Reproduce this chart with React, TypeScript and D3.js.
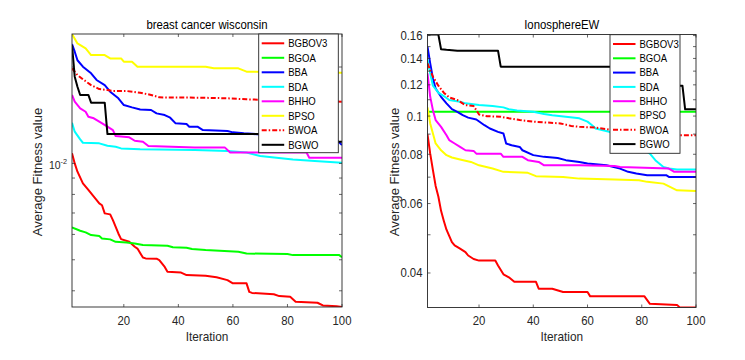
import React from 'react';
import * as d3 from 'd3';

type Pt = [number, number]; // [iteration, average fitness]

const seriesNames = ['BGBOV3', 'BGOA', 'BBA', 'BDA', 'BHHO', 'BPSO', 'BWOA', 'BGWO'];
const seriesColors = ['#ff0000', '#00ff00', '#0000ff', '#00ffff', '#ff00ff', '#ffff00', '#ff0000', '#000000'];
const seriesDash = [null, null, null, null, null, null, '5,2,1.5,2', null];

const iterTicks = [20, 40, 60, 80, 100];

// breast cancer wisconsin
const bcwBGBOV3: Pt[] = [[1, 0.01075], [2, 0.0100], [3, 0.00942], [5, 0.00866], [7, 0.00826], [9, 0.00787], [11, 0.0075], [12, 0.0074], [13, 0.00698], [15, 0.00693], [16, 0.00665], [18, 0.00604], [19, 0.0058], [22, 0.00569], [24, 0.00549], [25, 0.00542], [27, 0.00508], [28, 0.00505], [32, 0.00504], [33, 0.00499], [35, 0.00475], [36, 0.00459], [41, 0.00456], [43, 0.00448], [50, 0.00446], [54, 0.00441], [58, 0.00432], [60, 0.00422], [65, 0.00422], [66, 0.00397], [67, 0.00394], [75, 0.0039], [77, 0.00385], [81, 0.00383], [83, 0.0037], [91, 0.00367], [93, 0.0036], [98, 0.00358], [100, 0.00356]];
const bcwBGOA: Pt[] = [[1, 0.00631], [4, 0.00616], [6, 0.00609], [8, 0.00597], [11, 0.00593], [12, 0.00583], [15, 0.00579], [17, 0.00569], [21, 0.00566], [24, 0.00562], [27, 0.00556], [36, 0.00553], [38, 0.00547], [43, 0.00545], [45, 0.0054], [50, 0.00536], [62, 0.0053], [65, 0.00523], [80, 0.00521], [82, 0.00517], [99, 0.00517], [100, 0.00509]];
const bcwBBA: Pt[] = [[1, 0.0236], [2, 0.02233], [3, 0.0210], [5, 0.02005], [8, 0.01911], [10, 0.01822], [13, 0.01756], [15, 0.01675], [18, 0.01597], [20, 0.01521], [23, 0.01496], [26, 0.01474], [30, 0.01468], [32, 0.01433], [35, 0.01416], [37, 0.01389], [39, 0.01334], [43, 0.01327], [44, 0.01302], [47, 0.01302], [49, 0.01271], [58, 0.01262], [60, 0.0125], [64, 0.01241], [70, 0.01232], [82, 0.01226], [92, 0.01212], [98, 0.01183], [100, 0.01141]];
const bcwBDA: Pt[] = [[1, 0.0134], [2, 0.01256], [4, 0.01188], [5, 0.0116], [11, 0.01155], [14, 0.01135], [17, 0.01127], [19, 0.01114], [26, 0.01108], [33, 0.01106], [46, 0.01101], [58, 0.01093], [65, 0.01082], [70, 0.01054], [82, 0.01029], [90, 0.01017], [100, 0.01005]];
const bcwBHHO: Pt[] = [[1, 0.01636], [2, 0.01559], [4, 0.01486], [6, 0.0145], [7, 0.01399], [9, 0.01383], [11, 0.0135], [14, 0.01302], [16, 0.01271], [17, 0.01218], [22, 0.01206], [24, 0.01177], [27, 0.01169], [29, 0.01133], [46, 0.01122], [57, 0.01122], [59, 0.01082], [87, 0.01082], [88, 0.01041], [100, 0.01041]];
const bcwBPSO: Pt[] = [[1, 0.02536], [3, 0.0237], [6, 0.02288], [8, 0.0218], [13, 0.0218], [15, 0.02128], [19, 0.02128], [20, 0.02078], [23, 0.02078], [25, 0.02005], [50, 0.02005], [53, 0.01981], [62, 0.01981], [65, 0.01934], [100, 0.0192]];
const bcwBWOA: Pt[] = [[1, 0.01981], [3, 0.01888], [5, 0.01831], [8, 0.01756], [11, 0.01707], [14, 0.01695], [16, 0.01683], [21, 0.01683], [26, 0.01663], [30, 0.01636], [33, 0.01608], [48, 0.01604], [58, 0.01597], [65, 0.01585], [82, 0.0157], [100, 0.01559]];
const bcwBGWO: Pt[] = [[1, 0.02342], [2, 0.01866], [3, 0.01736], [4, 0.01636], [7, 0.01636], [8, 0.01548], [13, 0.01548], [14, 0.01235], [85, 0.01235], [86, 0.01169], [100, 0.01169]];

// IonosphereEW
const ionBGBOV3: Pt[] = [[1, 0.0899], [2, 0.0803], [3, 0.0729], [4, 0.0665], [5, 0.0625], [6, 0.0575], [7, 0.0543], [8, 0.0515], [9, 0.0497], [10, 0.0479], [11, 0.047], [13, 0.0461], [15, 0.0452], [16, 0.0443], [18, 0.0434], [20, 0.043], [26, 0.043], [27, 0.0418], [29, 0.0397], [31, 0.039], [33, 0.038], [41, 0.038], [42, 0.0365], [47, 0.0365], [51, 0.0358], [60, 0.0358], [61, 0.0349], [81, 0.0349], [83, 0.0334], [93, 0.0332], [94, 0.0327], [100, 0.0327]];
const ionBGOA: Pt[] = [[1, 0.1025], [100, 0.1025]];
const ionBBA: Pt[] = [[1, 0.150], [2, 0.136], [3, 0.1245], [4, 0.1175], [6, 0.1119], [8, 0.1077], [10, 0.1041], [12, 0.1025], [14, 0.1005], [16, 0.0991], [19, 0.098], [22, 0.0948], [24, 0.093], [27, 0.0912], [29, 0.0903], [30, 0.0852], [32, 0.0843], [35, 0.0835], [36, 0.0819], [40, 0.0796], [44, 0.0788], [49, 0.0783], [52, 0.0773], [57, 0.0765], [60, 0.0758], [67, 0.075], [72, 0.0736], [75, 0.0722], [78, 0.0715], [82, 0.0708], [89, 0.0708], [90, 0.0701], [100, 0.0701]];
const ionBDA: Pt[] = [[1, 0.1392], [2, 0.1283], [3, 0.1194], [5, 0.1146], [7, 0.1124], [9, 0.1098], [13, 0.1087], [15, 0.1077], [20, 0.1066], [25, 0.106], [29, 0.1052], [31, 0.1041], [34, 0.1033], [40, 0.1025], [44, 0.1012], [47, 0.1005], [52, 0.0996], [57, 0.0987], [60, 0.0968], [62, 0.0944], [63, 0.093], [68, 0.0912], [76, 0.087], [83, 0.0803], [85, 0.0773], [88, 0.0743], [90, 0.0736], [93, 0.0732], [100, 0.0732]];
const ionBHHO: Pt[] = [[1, 0.1283], [2, 0.1119], [3, 0.1035], [4, 0.0977], [6, 0.0939], [8, 0.0894], [9, 0.0869], [11, 0.0852], [13, 0.0835], [15, 0.0819], [18, 0.0816], [19, 0.0803], [28, 0.0803], [29, 0.0788], [36, 0.0788], [38, 0.0773], [42, 0.0765], [44, 0.075], [57, 0.075], [70, 0.0747], [72, 0.0743], [90, 0.0736], [92, 0.0722], [100, 0.0722]];
const ionBPSO: Pt[] = [[1, 0.1052], [2, 0.0958], [3, 0.0903], [4, 0.0852], [6, 0.0819], [8, 0.0796], [10, 0.0785], [13, 0.0776], [17, 0.0765], [20, 0.075], [25, 0.0736], [29, 0.0722], [38, 0.0718], [41, 0.0704], [51, 0.0701], [57, 0.0694], [70, 0.069], [79, 0.0687], [82, 0.0681], [88, 0.0674], [93, 0.0648], [100, 0.0646]];
const ionBWOA: Pt[] = [[1, 0.136], [2, 0.1308], [3, 0.1258], [5, 0.1194], [7, 0.1146], [9, 0.1115], [12, 0.1098], [15, 0.1066], [18, 0.106], [19, 0.1035], [20, 0.1009], [23, 0.0999], [28, 0.0996], [31, 0.0987], [35, 0.0977], [40, 0.0968], [50, 0.0958], [54, 0.0944], [57, 0.0939], [63, 0.0935], [68, 0.0924], [80, 0.091], [94, 0.0894], [100, 0.0894]];
const ionBGWO: Pt[] = [[1, 0.161], [5, 0.161], [6, 0.1477], [8, 0.1472], [12, 0.1465], [27, 0.1465], [28, 0.1334], [80, 0.1334], [81, 0.1194], [95, 0.1194], [96, 0.104], [100, 0.104]];

const bcwMajor = [0.01];
const bcwMinor = [0.004, 0.005, 0.006, 0.007, 0.008, 0.009, 0.02];
const ionMajor = [0.04, 0.06, 0.08, 0.1, 0.12, 0.14, 0.16];
const ionMinor = [0.05, 0.07, 0.09, 0.11, 0.13, 0.15];

const ink = '#262626';
const SX = 0.91; // source figure is slightly stretched vertically

type Frame = { l: number; r: number; t: number; b: number };
type Box = { x: number; y: number; w: number; h: number; first: number; step: number };

function HText({ x, y, size, anchor = 'middle', fill = ink, children }: any) {
  return (
    <text transform={`translate(${x},${y}) scale(${SX},1)`} fontSize={size} textAnchor={anchor} fill={fill}>
      {children}
    </text>
  );
}

function Panel({ id, title, data, frame, legend, majors, minors, logLabel, ylabelX }: {
  id: string; title: string; data: Pt[][]; frame: Frame; legend: Box;
  majors: number[]; minors: number[]; logLabel: boolean; ylabelX: number;
}) {
  const xs = d3.scaleLinear().domain([1, 100]).range([frame.l, frame.r]);
  const ext = d3.extent(data.flat(), d => d[1]) as [number, number];
  const ys = d3.scaleLog().domain(ext).range([frame.b, frame.t]);
  const line = d3.line<Pt>().x(d => xs(d[0])).y(d => ys(d[1]));
  const midX = (frame.l + frame.r) / 2;

  return (
    <g>
      <defs>
        <clipPath id={id}>
          <rect x={frame.l} y={frame.t} width={frame.r - frame.l} height={frame.b - frame.t} />
        </clipPath>
      </defs>
      <rect x={frame.l} y={frame.t} width={frame.r - frame.l} height={frame.b - frame.t} fill="#fff" />
      <g clipPath={`url(#${id})`}>
        {data.map((s, i) => (
          <path key={i} d={line(s) ?? ''} fill="none" stroke={seriesColors[i]} strokeWidth={2}
            strokeDasharray={seriesDash[i] ?? undefined} strokeLinejoin="round" />
        ))}
      </g>

      {/* ticks, mirrored on all four sides */}
      {iterTicks.map(t => (
        <g key={t} stroke={ink} strokeWidth={0.7}>
          <line x1={xs(t)} x2={xs(t)} y1={frame.b} y2={frame.b - 3} />
          <line x1={xs(t)} x2={xs(t)} y1={frame.t} y2={frame.t + 3} />
        </g>
      ))}
      {majors.concat(minors).map(v => (
        <g key={v} stroke={ink} strokeWidth={0.7}>
          <line x1={frame.l} x2={frame.l + 3} y1={ys(v)} y2={ys(v)} />
          <line x1={frame.r} x2={frame.r - 3} y1={ys(v)} y2={ys(v)} />
        </g>
      ))}
      <rect x={frame.l} y={frame.t} width={frame.r - frame.l} height={frame.b - frame.t}
        fill="none" stroke={ink} strokeWidth={0.9} />

      {iterTicks.map(t => (
        <HText key={t} x={xs(t)} y={frame.b + 17.5} size={12.5}>{t}</HText>
      ))}
      {majors.map(v => logLabel ? (
        <text key={v} transform={`translate(${frame.l - 5},${ys(v) + 6}) scale(${SX},1)`} textAnchor="end" fill={ink} fontSize={11.5}>
          10<tspan dy={-5} fontSize={8}>-2</tspan>
        </text>
      ) : (
        <HText key={v} x={frame.l - 5} y={ys(v) + 4.5} size={12.5} anchor="end">{String(v)}</HText>
      ))}

      <HText x={midX} y={29} size={12.5} fill="#000">{title}</HText>
      <HText x={midX} y={341} size={13}>Iteration</HText>
      <text transform={`translate(${ylabelX},172) rotate(-90)`} textAnchor="middle" fontSize={13} fill={ink}>
        Average Fitness value
      </text>

      {/* legend */}
      <rect x={legend.x} y={legend.y} width={legend.w} height={legend.h} fill="#fff" stroke={ink} strokeWidth={0.9} />
      {seriesNames.map((n, i) => {
        const yy = legend.first + i * legend.step;
        return (
          <g key={n}>
            <line x1={legend.x + 3} x2={legend.x + 25.5} y1={yy} y2={yy} stroke={seriesColors[i]} strokeWidth={2}
              strokeDasharray={seriesDash[i] ?? undefined} />
            <HText x={legend.x + 29.5} y={yy + 3.8} size={10.5} anchor="start" fill="#000">{n}</HText>
          </g>
        );
      })}
    </g>
  );
}

export default function App() {
  return (
    <svg width={745} height={360} style={{ position: 'absolute', left: 0, top: 0, background: '#fff' }}
      fontFamily="'Liberation Sans', Arial, Helvetica, sans-serif">
      <Panel id="clip-bcw" title="breast cancer wisconsin"
        data={[bcwBGBOV3, bcwBGOA, bcwBBA, bcwBDA, bcwBHHO, bcwBPSO, bcwBWOA, bcwBGWO]}
        frame={{ l: 72, r: 342, t: 34, b: 307 }}
        legend={{ x: 258.7, y: 34, w: 79.6, h: 118.7, first: 43.3, step: 14.5 }}
        majors={bcwMajor} minors={bcwMinor} logLabel={true} ylabelX={42} />
      <Panel id="clip-ion" title="IonosphereEW"
        data={[ionBGBOV3, ionBGOA, ionBBA, ionBDA, ionBHHO, ionBPSO, ionBWOA, ionBGWO]}
        frame={{ l: 427.5, r: 696, t: 34.5, b: 307.5 }}
        legend={{ x: 610, y: 34.7, w: 70, h: 118.6, first: 44, step: 14.3 }}
        majors={ionMajor} minors={ionMinor} logLabel={false} ylabelX={399} />
    </svg>
  );
}
